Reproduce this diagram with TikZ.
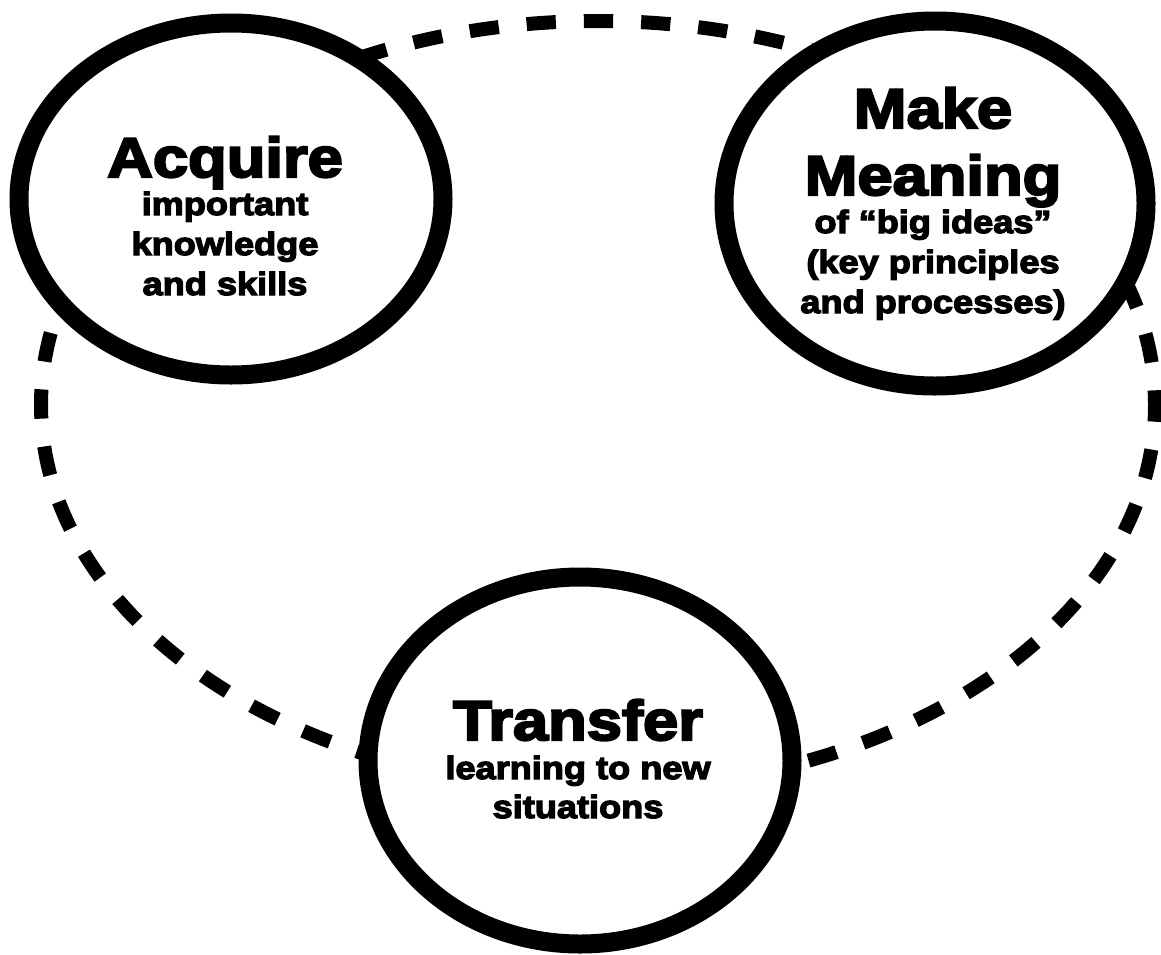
\documentclass[tikz,border=0pt]{standalone}
\usepackage{fontspec}
\usetikzlibrary{shapes.geometric}
\newfontfamily\heavyfont[FakeBold=4,FakeStretch=1.13]{Liberation Sans Bold}
\tikzset{
  bubble/.style={ellipse, draw=black, line width=19pt, fill=white, inner sep=0pt},
  cyclering/.style={ellipse, draw=black, line width=14pt, dash pattern=on 29.3pt off 28pt, dash phase=14.6pt, inner sep=0pt},
  titletext/.style={anchor=base, inner sep=0pt, font=\heavyfont\fontsize{56}{60}\selectfont},
  subtext/.style={anchor=base, inner sep=0pt, font=\heavyfont\fontsize{32}{38}\selectfont},
}
\begin{document}
\begin{tikzpicture}[x=1pt,y=-1pt]
\useasboundingbox[fill=white] (0,0) rectangle (1161,954);
\node[cyclering, minimum width=1114pt, minimum height=768pt] (cycle) at (598,405) {};
\node[bubble, minimum width=424pt, minimum height=352pt] (acq) at (231,199) {};
\node[bubble, minimum width=422pt, minimum height=365pt] (mean) at (935,203.5) {};
\node[bubble, minimum width=424pt, minimum height=367pt] (trans) at (580,760.5) {};
% Acquire
\node[titletext] (acqT) at (225,177) {Acquire};
\node[subtext] (acq1) at (225,215) {important};
\node[subtext] (acq2) at (225,255) {knowledge};
\node[subtext] (acq3) at (225,295) {and skills};
% Make Meaning
\node[titletext] (meanT1) at (933,128) {Make};
\node[titletext] (meanT2) at (933,195) {Meaning};
\node[subtext] (mean1) at (933,233) {of “big ideas”};
\node[subtext] (mean2) at (933,273) {(key principles};
\node[subtext] (mean3) at (933,313) {and processes)};
% Transfer
\node[titletext] (transT) at (578,740) {Transfer};
\node[subtext] (trans1) at (578,779) {learning to new};
\node[subtext] (trans2) at (578,818) {situations};
\end{tikzpicture}
\end{document}
